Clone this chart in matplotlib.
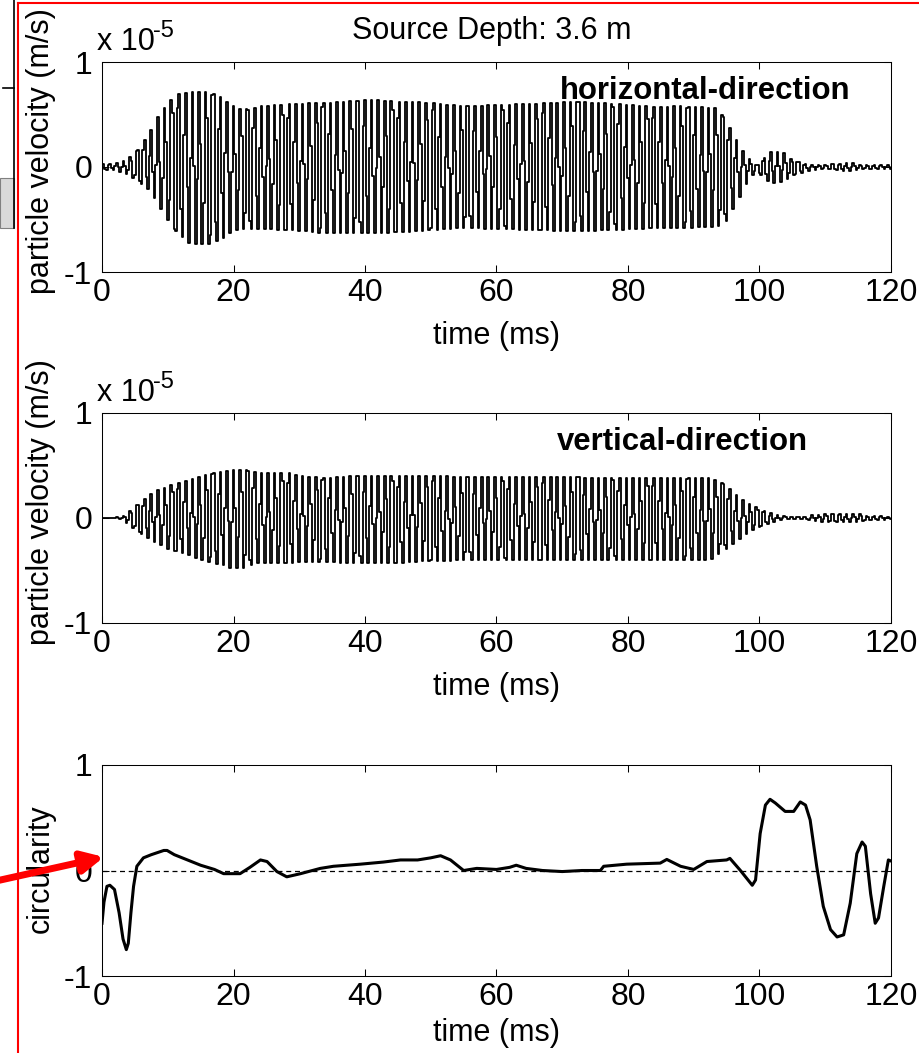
import matplotlib

matplotlib.use("Agg")

import numpy as np
import matplotlib.pyplot as plt
from matplotlib.lines import Line2D
from matplotlib.patches import Rectangle

plt.rcParams["font.family"] = ["Liberation Sans", "DejaVu Sans"]
plt.rcParams["axes.unicode_minus"] = False

# --- data (velocities in units of 1e-5 m/s) ---
# horizontal component: envelope knots (ms), upper and lower amplitude
h_time = [0, 2, 3, 4.3, 5.8, 7.3, 8.8, 10.3, 11.9, 13.4, 16.4, 17.9, 19.5, 21, 22.5,
          24, 28.6, 33.7, 41.3, 46, 50, 55, 60, 65, 72, 78, 84, 88, 93.5, 95, 96.5,
          98, 99.6, 101.6, 103.6, 105.1, 107.7, 110, 113.8, 116, 120]
h_upper = [0.03, 0.03, 0.05, 0.095, 0.19, 0.33, 0.51, 0.63, 0.70, 0.71, 0.71, 0.67, 0.59,
           0.55, 0.55, 0.58, 0.60, 0.61, 0.64, 0.62, 0.61, 0.58, 0.59, 0.60, 0.62, 0.60,
           0.57, 0.58, 0.56, 0.43, 0.26, 0.10, 0.01, 0.14, 0.14, 0.06, 0.02, 0.02, 0.04,
           0.015, 0.02]
h_lower = [0.03, 0.03, 0.05, 0.08, 0.15, 0.22, 0.38, 0.54, 0.65, 0.73, 0.73, 0.70, 0.63,
           0.59, 0.59, 0.59, 0.60, 0.63, 0.63, 0.62, 0.60, 0.58, 0.59, 0.60, 0.61, 0.60,
           0.58, 0.58, 0.57, 0.51, 0.35, 0.16, 0.03, 0.16, 0.14, 0.08, 0.03, 0.02, 0.04,
           0.015, 0.02]

# vertical component
v_time = [0, 2.3, 3.3, 4.8, 6.3, 8.3, 10.3, 12.4, 14.4, 16.4, 18.5, 19.5, 21.5, 23.6,
          28.2, 30, 34, 38, 44, 50, 56, 62, 70, 78, 85, 92.5, 94, 95.6, 97.1, 98.6,
          100.1, 101.6, 103.1, 105, 107, 108, 112, 115.3, 116.5, 119, 120]
v_upper = [0, 0.005, 0.02, 0.10, 0.17, 0.26, 0.31, 0.35, 0.38, 0.42, 0.44, 0.46, 0.46,
           0.43, 0.43, 0.40, 0.38, 0.40, 0.40, 0.40, 0.39, 0.39, 0.39, 0.38, 0.38, 0.38,
           0.35, 0.27, 0.19, 0.13, 0.08, 0.05, 0.02, 0.01, 0.01, 0.03, 0.04, 0.04, 0.015,
           0.015, 0.005]
v_lower = [0, 0.005, 0.02, 0.10, 0.17, 0.24, 0.30, 0.34, 0.38, 0.42, 0.45, 0.48, 0.48,
           0.43, 0.43, 0.42, 0.42, 0.43, 0.43, 0.41, 0.40, 0.40, 0.40, 0.40, 0.40, 0.40,
           0.33, 0.27, 0.19, 0.13, 0.08, 0.05, 0.02, 0.01, 0.01, 0.03, 0.04, 0.04, 0.015,
           0.015, 0.005]

# carrier of the recorded signal (coarsely sampled, drawn as held samples)
carrier_khz = 0.955
sample_ms = 0.25

# circularity
c_time = [0, 0.3, 0.75, 1.2, 1.9, 2.6, 3.2, 3.7, 4.0, 4.4, 4.8, 5.3, 6.3, 7.5, 9.4, 9.9,
          11, 12.4, 15, 17.1, 18.5, 21, 22.5, 24.1, 25.1, 26.6, 28.1, 30.2, 33.2, 35.2,
          39.3, 42.8, 45.4, 48, 50, 51.5, 53, 55, 57, 60, 62, 63, 64.5, 67, 70, 73,
          75.8, 76.3, 79.8, 84.9, 85.9, 88, 90, 92, 95, 95.5, 97.1, 98.9, 99.4, 100.1,
          100.9, 101.6, 102.4, 103.9, 105.2, 106.2, 107, 107.7, 108.7, 109.7, 110.8,
          111.8, 112.8, 113.8, 114.8, 115.6, 116.1, 116.9, 117.6, 118.1, 118.9, 119.6, 120]
c_value = [-0.50, -0.30, -0.15, -0.14, -0.18, -0.40, -0.65, -0.75, -0.69, -0.40, -0.15,
           0.04, 0.12, 0.15, 0.19, 0.19, 0.15, 0.115, 0.05, 0.01, -0.03, -0.03, 0.03,
           0.10, 0.085, -0.01, -0.06, -0.03, 0.02, 0.04, 0.06, 0.08, 0.10, 0.10, 0.12,
           0.14, 0.10, 0.0, 0.02, 0.01, 0.03, 0.05, 0.02, 0.0, -0.01, 0.0, 0.0, 0.04,
           0.06, 0.07, 0.105, 0.04, 0.01, 0.085, 0.10, 0.115, 0.0, -0.14, -0.09, 0.35,
           0.62, 0.675, 0.64, 0.56, 0.56, 0.65, 0.62, 0.48, 0.04, -0.34, -0.56, -0.63,
           -0.61, -0.31, 0.16, 0.27, 0.23, -0.22, -0.50, -0.45, -0.15, 0.10, 0.09]

x_ticks = [0, 20, 40, 60, 80, 100, 120]
y_ticks = [-1, 0, 1]
FS = 22
FS_TICK = 23
W, H = 920, 1053


def waveform(knots, upper, lower):
    t = np.arange(0, 120 + sample_ms, sample_ms)
    ph = 2 * np.pi * carrier_khz * t + 0.8
    # every cycle of four samples reaches its envelope
    s = np.sin(ph) / np.maximum(np.abs(np.sin(ph)), np.abs(np.cos(ph)))
    up = np.interp(t, knots, upper)
    lo = np.interp(t, knots, lower)
    return t, np.where(s >= 0, up * s, lo * s)


def style(ax, ylabel, ylab_y, xlab_y=-0.235):
    ax.set_xlim(0, 120)
    ax.set_ylim(-1, 1)
    ax.set_xticks(x_ticks)
    ax.set_yticks(y_ticks)
    ax.tick_params(direction="in", length=5, width=0.75, top=True, right=True,
                   labelsize=FS_TICK)
    ax.tick_params(axis="x", pad=4)
    ax.tick_params(axis="y", pad=7)
    for sp in ax.spines.values():
        sp.set_linewidth(0.75)
    ax.set_xlabel("time (ms)", fontsize=FS)
    ax.xaxis.set_label_coords(0.5, xlab_y)
    ax.set_ylabel(ylabel, fontsize=FS)
    ax.yaxis.set_label_coords(-0.058, ylab_y)


fig = plt.figure(figsize=(W / 100, H / 100), dpi=100)


def axes_px(left, top, right, bottom):
    return fig.add_axes([left / W, 1 - bottom / H, (right - left) / W, (bottom - top) / H])


ax1 = axes_px(102, 62, 891, 272)
ax2 = axes_px(102, 413, 891, 623)
ax3 = axes_px(102, 765, 891, 976)

t, y = waveform(h_time, h_upper, h_lower)
ax1.plot(t, y, color="k", lw=1.3, drawstyle="steps-mid")
style(ax1, "particle velocity (m/s)", 0.575)
ax1.text(69.6, 0.65, "horizontal-direction", fontsize=22.4, fontweight="bold",
         ha="left", va="baseline")

t, y = waveform(v_time, v_upper, v_lower)
ax2.plot(t, y, color="k", lw=1.3, drawstyle="steps-mid")
style(ax2, "particle velocity (m/s)", 0.575)
ax2.text(69.2, 0.65, "vertical-direction", fontsize=22.4, fontweight="bold",
         ha="left", va="baseline")

ax3.plot(c_time, c_value, color="k", lw=2.2)
ax3.axhline(0, color="k", lw=0.9, ls=(0, (4, 3)))
style(ax3, "circularity", 0.51, xlab_y=-0.2)

# exponent labels and title
for base in (50, 401):
    fig.text(97 / W, 1 - base / H, "x 10", fontsize=FS, ha="left", va="baseline")
    fig.text(153 / W, 1 - (base - 13) / H, "-5", fontsize=17, ha="left", va="baseline")
fig.text(491.5 / W, 1 - 39 / H, "Source Depth: 3.6 m", fontsize=FS, ha="center",
         va="baseline")

# screenshot clutter: red frame, arrow, grey panel at top left
fig.add_artist(Line2D([18 / W, 18 / W], [0, 1 - 2.5 / H], transform=fig.transFigure,
                      color="red", lw=1.5))
fig.add_artist(Line2D([18 / W, 1], [1 - 2.5 / H, 1 - 2.5 / H], transform=fig.transFigure,
                      color="red", lw=1.5))
fig.add_artist(Rectangle((0, 1 - 228 / H), 14 / W, 50 / H, transform=fig.transFigure,
                         facecolor="#d9d9d9", edgecolor="#808080", lw=0.8))
fig.add_artist(Line2D([14 / W, 14 / W], [1 - 228 / H, 1], transform=fig.transFigure,
                      color="k", lw=1.2))
fig.add_artist(Line2D([3 / W, 14 / W], [1 - 88 / H, 1 - 88 / H], transform=fig.transFigure,
                      color="k", lw=1.2))
ax3.annotate("", xy=(104, H - 857), xycoords="figure pixels",
             xytext=(-4, H - 881), textcoords="figure pixels",
             arrowprops=dict(arrowstyle="-|>", color="red", lw=5, mutation_scale=32,
                             shrinkA=0, shrinkB=0),
             annotation_clip=False)

fig.savefig("out.png", dpi=100)
